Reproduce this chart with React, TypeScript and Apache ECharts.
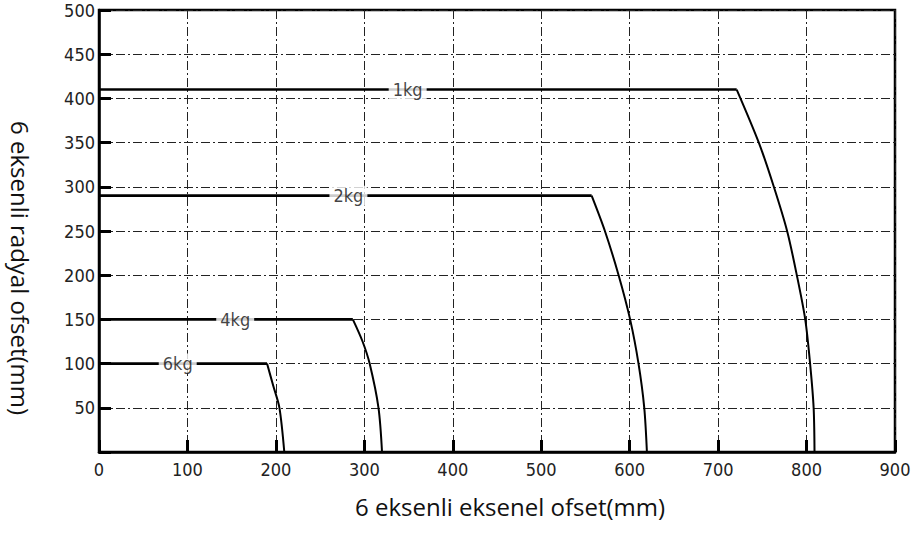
import React, { useEffect, useRef } from "react";
import * as echarts from "echarts";

const xAxisTitle = "6 eksenli eksenel ofset(mm)";
const yAxisTitle = "6 eksenli radyal ofset(mm)";

const loadNames = ["1kg", "2kg", "4kg", "6kg"];
const flatHeight = [410, 290, 150, 100];
const flatEnd = [721, 557, 287, 190];
const labelX = [349, 282, 154, 89];

const curve1kg: number[][] = [
  [721, 410], [746, 350], [763, 300], [778, 250],
  [789, 200], [798.5, 150], [804, 100], [808, 50], [809, 0],
];
const curve2kg: number[][] = [
  [557, 290], [572, 250], [587.5, 200], [600.5, 150], [610, 100], [616.5, 50], [619.5, 0],
];
const curve4kg: number[][] = [
  [287, 150], [298, 125], [306, 100], [316, 50], [320, 0],
];
const curve6kg: number[][] = [
  [190, 100], [197, 75], [204, 50], [209.5, 0],
];
const curves = [curve1kg, curve2kg, curve4kg, curve6kg];

const tickFont = "'Liberation Sans Narrow', 'DejaVu Sans Condensed', 'Liberation Sans', sans-serif";
const titleFont = "'Open Sans', sans-serif";

export default function App() {
  const ref = useRef<HTMLDivElement>(null);
  useEffect(() => {
    if (!ref.current) return;
    const chart = echarts.init(ref.current, undefined, { renderer: "svg" });
    const series: any[] = [];
    loadNames.forEach((name, i) => {
      series.push({
        type: "line",
        name: name + "-flat",
        data: [[0, flatHeight[i]], [flatEnd[i], flatHeight[i]]],
        symbol: "none",
        lineStyle: { color: "#000", width: 2.6 },
        z: 3,
      });
      series.push({
        type: "line",
        name: name + "-curve",
        data: curves[i],
        symbol: "none",
        smooth: 0.3,
        lineStyle: { color: "#000", width: 2 },
        z: 3,
      });
    });
    series.push({
      type: "scatter",
      name: "labels",
      data: loadNames.map((n, i) => [labelX[i], flatHeight[i], n]),
      symbolSize: 0.01,
      itemStyle: { color: "rgba(0,0,0,0)" },
      z: 10,
      label: {
        show: true,
        position: "inside",
        formatter: (p: any) => p.value[2],
        fontFamily: tickFont,
        fontSize: 18,
        color: "#111",
        backgroundColor: "#fff",
        padding: [1, 4, 1, 4],
      },
    });

    const gridLine = { type: [9, 3, 2, 3], color: "#222", width: 1 };

    chart.setOption({
      animation: false,
      backgroundColor: "#fff",
      grid: {
        left: 99, right: 22, top: 10, bottom: 82,
        show: true, borderColor: "#000", borderWidth: 2.5, backgroundColor: "transparent",
      },
      xAxis: {
        type: "value", min: 0, max: 900, interval: 100,
        axisLine: { show: true, lineStyle: { color: "#000", width: 2.5 } },
        axisTick: { show: true, inside: true, length: 12, lineStyle: { color: "#000", width: 3 } },
        axisLabel: { fontFamily: tickFont, fontSize: 18, color: "#222", margin: 8 },
        splitLine: { show: true, lineStyle: gridLine },
      },
      yAxis: {
        type: "value", min: 0, max: 500, interval: 50,
        axisLine: { show: true, lineStyle: { color: "#000", width: 2.5 } },
        axisTick: { show: true, inside: true, length: 12, lineStyle: { color: "#000", width: 3 } },
        axisLabel: {
          fontFamily: tickFont, fontSize: 18, color: "#222", margin: 4,
          formatter: (v: number) => (v === 0 ? "" : String(v)),
        },
        splitLine: { show: true, lineStyle: gridLine },
      },
      graphic: [
        {
          type: "text", x: 510, y: 506,
          style: {
            text: xAxisTitle, fontFamily: titleFont, fontSize: 24,
            fill: "#111", align: "center", verticalAlign: "middle",
          },
        },
        {
          type: "text", x: 20, y: 268, rotation: -Math.PI / 2,
          style: {
            text: yAxisTitle, fontFamily: titleFont, fontSize: 24,
            fill: "#111", align: "center", verticalAlign: "middle",
          },
        },
      ],
      series,
    });
    return () => chart.dispose();
  }, []);
  return (
    <div
      ref={ref}
      style={{ position: "fixed", left: 0, top: 0, width: 917, height: 534, background: "#fff" }}
    />
  );
}
